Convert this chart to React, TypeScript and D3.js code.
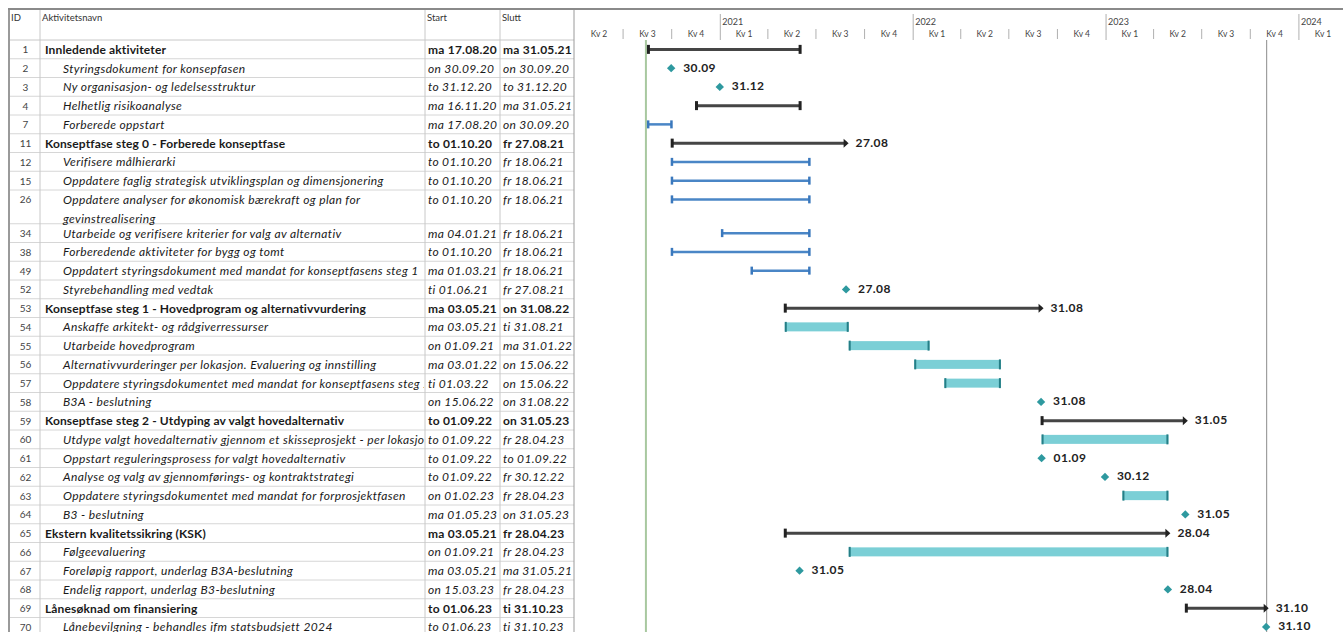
import * as d3 from "d3";

// rows of the plan, top to bottom
const ids = [1, 2, 3, 4, 7, 11, 12, 15, 26, 34, 38, 49, 52, 53, 54, 55, 56, 57, 58, 59, 60, 61, 62, 63, 64, 65, 66, 67, 68, 69, 70];
const names = [
  "Innledende aktiviteter",
  "Styringsdokument for konsepfasen",
  "Ny organisasjon- og ledelsesstruktur",
  "Helhetlig risikoanalyse",
  "Forberede oppstart",
  "Konseptfase steg 0 - Forberede konseptfase",
  "Verifisere målhierarki",
  "Oppdatere faglig strategisk utviklingsplan og dimensjonering",
  "Oppdatere analyser for økonomisk bærekraft og plan for\ngevinstrealisering",
  "Utarbeide og verifisere kriterier for valg av alternativ",
  "Forberedende aktiviteter for bygg og tomt",
  "Oppdatert styringsdokument med mandat for konseptfasens steg 1",
  "Styrebehandling med vedtak",
  "Konseptfase steg 1 - Hovedprogram og alternativvurdering",
  "Anskaffe arkitekt- og rådgiverressurser",
  "Utarbeide hovedprogram",
  "Alternativvurderinger per lokasjon. Evaluering og innstilling",
  "Oppdatere styringsdokumentet med mandat for konseptfasens steg 2",
  "B3A - beslutning",
  "Konseptfase steg 2 - Utdyping av valgt hovedalternativ",
  "Utdype valgt hovedalternativ gjennom et skisseprosjekt - per lokasjon",
  "Oppstart reguleringsprosess for valgt hovedalternativ",
  "Analyse og valg av gjennomførings- og kontraktstrategi",
  "Oppdatere styringsdokumentet med mandat for forprosjektfasen",
  "B3 - beslutning",
  "Ekstern kvalitetssikring (KSK)",
  "Følgeevaluering",
  "Foreløpig rapport, underlag B3A-beslutning",
  "Endelig rapport, underlag B3-beslutning",
  "Lånesøknad om finansiering",
  "Lånebevilgning - behandles ifm statsbudsjett 2024",
];
const startLabels = [
  "ma 17.08.20", "on 30.09.20", "to 31.12.20", "ma 16.11.20", "ma 17.08.20", "to 01.10.20", "to 01.10.20", "to 01.10.20",
  "to 01.10.20", "ma 04.01.21", "to 01.10.20", "ma 01.03.21", "ti 01.06.21", "ma 03.05.21", "ma 03.05.21", "on 01.09.21",
  "ma 03.01.22", "ti 01.03.22", "on 15.06.22", "to 01.09.22", "to 01.09.22", "to 01.09.22", "to 01.09.22", "on 01.02.23",
  "ma 01.05.23", "ma 03.05.21", "on 01.09.21", "ma 03.05.21", "on 15.03.23", "to 01.06.23", "to 01.06.23",
];
const finishLabels = [
  "ma 31.05.21", "on 30.09.20", "to 31.12.20", "ma 31.05.21", "on 30.09.20", "fr 27.08.21", "fr 18.06.21", "fr 18.06.21",
  "fr 18.06.21", "fr 18.06.21", "fr 18.06.21", "fr 18.06.21", "fr 27.08.21", "on 31.08.22", "ti 31.08.21", "ma 31.01.22",
  "on 15.06.22", "on 15.06.22", "on 31.08.22", "on 31.05.23", "fr 28.04.23", "to 01.09.22", "fr 30.12.22", "fr 28.04.23",
  "on 31.05.23", "fr 28.04.23", "fr 28.04.23", "ma 31.05.21", "fr 28.04.23", "ti 31.10.23", "ti 31.10.23",
];
// 0 = hovedaktivitet (bold), 1 = underaktivitet
const levels = [0, 1, 1, 1, 1, 0, 1, 1, 1, 1, 1, 1, 1, 0, 1, 1, 1, 1, 1, 0, 1, 1, 1, 1, 1, 0, 1, 1, 1, 0, 1];
const barTypes = [
  "span", "milestone", "milestone", "span", "line", "summary", "line", "line", "line", "line", "line", "line", "milestone",
  "summary", "bar", "bar", "bar", "bar", "milestone", "summary", "bar", "milestone", "milestone", "bar", "milestone",
  "summary", "bar", "milestone", "milestone", "summary", "milestone",
];
const headers = ["ID", "Aktivitetsnavn", "Start", "Slutt"];
const timelineStart = "01.04.20";
const timelineEnd = "01.04.24";
const projectStart = "17.08.20";
const projectEnd = "31.10.23";

const W = 1343;
const H = 632;
const FONT = "Lato, 'Open Sans', sans-serif";

const parse = d3.timeParse("%d.%m.%y");
const toDate = (s: string) => parse(s.slice(-8)) as Date;
const dayFmt = d3.timeFormat("%d.%m");

export default function App() {
  const colX = [9, 40, 425, 500, 574];
  const headTop = 9;
  const headBottom = 40;
  const rowH = 18.75;
  const lineGap = 15;

  const x = d3.scaleTime().domain([toDate(timelineStart), toDate(timelineEnd)]).range([colX[4] + 1, colX[4] + 773]);

  const rows = names.map((n, i) => ({
    id: ids[i],
    lines: n.split("\n"),
    start: toDate(startLabels[i]),
    finish: toDate(finishLabels[i]),
    startLabel: startLabels[i],
    finishLabel: finishLabels[i],
    level: levels[i],
    type: barTypes[i],
  }));
  const tops: number[] = [];
  let acc = headBottom;
  rows.forEach((r) => {
    tops.push(acc);
    acc += rowH + (r.lines.length - 1) * lineGap;
  });
  const bottoms = rows.map((r, i) => tops[i] + rowH + (r.lines.length - 1) * lineGap);

  const quarters = d3.timeMonth.every(3)!.range(x.domain()[0], x.domain()[1]);
  const years = d3.timeYear.range(x.domain()[0], d3.timeDay.offset(x.domain()[1], 1));
  const endOfDay = (d: Date) => d3.timeDay.offset(d, 1);

  const dark = "#454545";
  const blue = "#4a86c6";
  const teal = "#7bcfd6";
  const tealDark = "#257e86";
  const mile = "#2e999f";

  // text style per level
  const txt = (bold: boolean) => ({
    fontFamily: FONT,
    fontSize: 12,
    fill: "#1a1a1a",
    fontWeight: bold ? 700 : 400,
    fontStyle: bold ? "normal" : "italic",
    letterSpacing: bold ? 0.14 : 0.37,
  });

  return (
    <svg width={W} height={H} style={{ position: "absolute", left: 0, top: 0, display: "block", background: "#fff" }}>
      <defs>
        <clipPath id="nameClip">
          <rect x={colX[1]} y={0} width={colX[2] - colX[1] - 1} height={H} />
        </clipPath>
      </defs>

      {/* table grid */}
      {rows.map((r, i) => (
        <line key={"h" + i} x1={colX[0]} x2={colX[4]} y1={bottoms[i]} y2={bottoms[i]} stroke="#d6d6d6" strokeWidth={1} />
      ))}
      <line x1={colX[0]} x2={colX[4]} y1={headBottom} y2={headBottom} stroke="#c8c8c8" />
      {colX.slice(1, 4).map((cx, i) => (
        <line key={"v" + i} x1={cx} x2={cx} y1={headTop} y2={H} stroke="#c8c8c8" />
      ))}
      <line x1={colX[4]} x2={colX[4]} y1={headTop} y2={H} stroke="#9a9a9a" />
      <line x1={colX[0]} x2={colX[0]} y1={headTop} y2={H} stroke="#9a9a9a" strokeWidth={2} />
      <line x1={colX[0] - 1} x2={W} y1={headTop} y2={headTop} stroke="#8a8a8a" strokeWidth={2} />

      {/* table header */}
      {headers.map((h, i) => (
        <text key={h} x={colX[i] + 2} y={21} fontFamily={FONT} fontSize={9.5} fill="#333">
          {h}
        </text>
      ))}

      {/* table rows */}
      {rows.map((r, i) => {
        const cy = tops[i] + rowH / 2;
        const bold = r.level === 0;
        const st = txt(bold);
        const dateSt = { ...st, letterSpacing: bold ? 0.22 : 0.32 };
        return (
          <g key={"r" + i}>
            <text x={(colX[0] + colX[1]) / 2 + 1} y={cy} dominantBaseline="central" textAnchor="middle" fontFamily={FONT} fontSize={10} fill="#444">
              {r.id}
            </text>
            <g clipPath="url(#nameClip)">
              {r.lines.map((ln, k) => (
                <text key={k} x={bold ? colX[1] + 5 : colX[1] + 23} y={cy + k * (lineGap + 4)} dominantBaseline="central" {...st}>
                  {ln}
                </text>
              ))}
            </g>
            <text x={colX[2] + 3} y={cy} dominantBaseline="central" {...dateSt}>
              {r.startLabel}
            </text>
            <text x={colX[3] + 3} y={cy} dominantBaseline="central" {...dateSt}>
              {r.finishLabel}
            </text>
          </g>
        );
      })}

      {/* timescale header */}
      {years.map((d, i) => (
        <g key={"y" + i}>
          {x(d) > colX[4] + 2 && <line x1={x(d)} x2={x(d)} y1={14} y2={headBottom} stroke="#b0b0b0" />}
          {x(d) > colX[4] + 2 && (
            <text x={x(d) + 2} y={25} fontFamily={FONT} fontSize={9} fill="#444">
              {d3.timeFormat("%Y")(d)}
            </text>
          )}
        </g>
      ))}
      {quarters.map((d, i) => {
        const next = d3.timeMonth.offset(d, 3);
        const q = Math.floor(d.getMonth() / 3) + 1;
        return (
          <g key={"q" + i}>
            {i > 0 && d.getMonth() !== 0 && <line x1={x(d)} x2={x(d)} y1={29} y2={headBottom - 1} stroke="#b0b0b0" />}
            <text x={(x(d) + Math.min(x(next), W + 30)) / 2} y={37} textAnchor="middle" fontFamily={FONT} fontSize={8.5} fill="#444">
              {"Kv " + q}
            </text>
          </g>
        );
      })}

      {/* project start / end lines */}
      <line x1={x(toDate(projectStart)) - 2} x2={x(toDate(projectStart)) - 2} y1={headBottom} y2={H} stroke="#a8c8a0" strokeWidth={2} />
      <line x1={x(endOfDay(toDate(projectEnd)))} x2={x(endOfDay(toDate(projectEnd)))} y1={headBottom} y2={H} stroke="#8c8c8c" strokeWidth={1} />

      {/* bars */}
      {rows.map((r, i) => {
        const cy = tops[i] + rowH / 2;
        const x0 = x(r.start);
        const x1 = x(endOfDay(r.finish));
        const label = (lx: number) => (
          <text x={lx} y={cy - 1} dominantBaseline="central" fontFamily={FONT} fontSize={12} fontWeight={700} letterSpacing={0.4} fill="#222">
            {dayFmt(r.finish)}
          </text>
        );
        if (r.type === "milestone") {
          const mx = x(r.finish);
          const s = 4.2;
          return (
            <g key={"b" + i}>
              <path d={`M${mx},${cy - s}L${mx + s},${cy}L${mx},${cy + s}L${mx - s},${cy}Z`} fill={mile} />
              {label(mx + 12)}
            </g>
          );
        }
        if (r.type === "span" || r.type === "summary") {
          return (
            <g key={"b" + i}>
              <line x1={x0} x2={x1} y1={cy} y2={cy} stroke={dark} strokeWidth={3} />
              <rect x={x0 - 1} y={cy - 4.5} width={3} height={9} fill="#222" />
              {r.type === "span" ? (
                <rect x={x1 - 1.5} y={cy - 4.5} width={3} height={9} fill="#222" />
              ) : (
                <path d={`M${x1 - 3},${cy - 4.5}L${x1 + 2},${cy}L${x1 - 3},${cy + 4.5}Z`} fill="#222" />
              )}
              {r.type === "summary" && label(x1 + 9)}
            </g>
          );
        }
        if (r.type === "line") {
          return (
            <g key={"b" + i}>
              <line x1={x0} x2={x1} y1={cy} y2={cy} stroke={blue} strokeWidth={2.5} />
              <rect x={x0 - 1} y={cy - 4} width={2.5} height={8} fill="#3a78bd" />
              <rect x={x1 - 1.5} y={cy - 4} width={2.5} height={8} fill="#3a78bd" />
            </g>
          );
        }
        return (
          <g key={"b" + i}>
            <rect x={x0} y={cy - 4.5} width={x1 - x0} height={9} fill={teal} />
            <rect x={x0} y={cy - 5} width={2} height={10} fill={tealDark} />
            <rect x={x1 - 2} y={cy - 5} width={2} height={10} fill={tealDark} />
          </g>
        );
      })}
    </svg>
  );
}
